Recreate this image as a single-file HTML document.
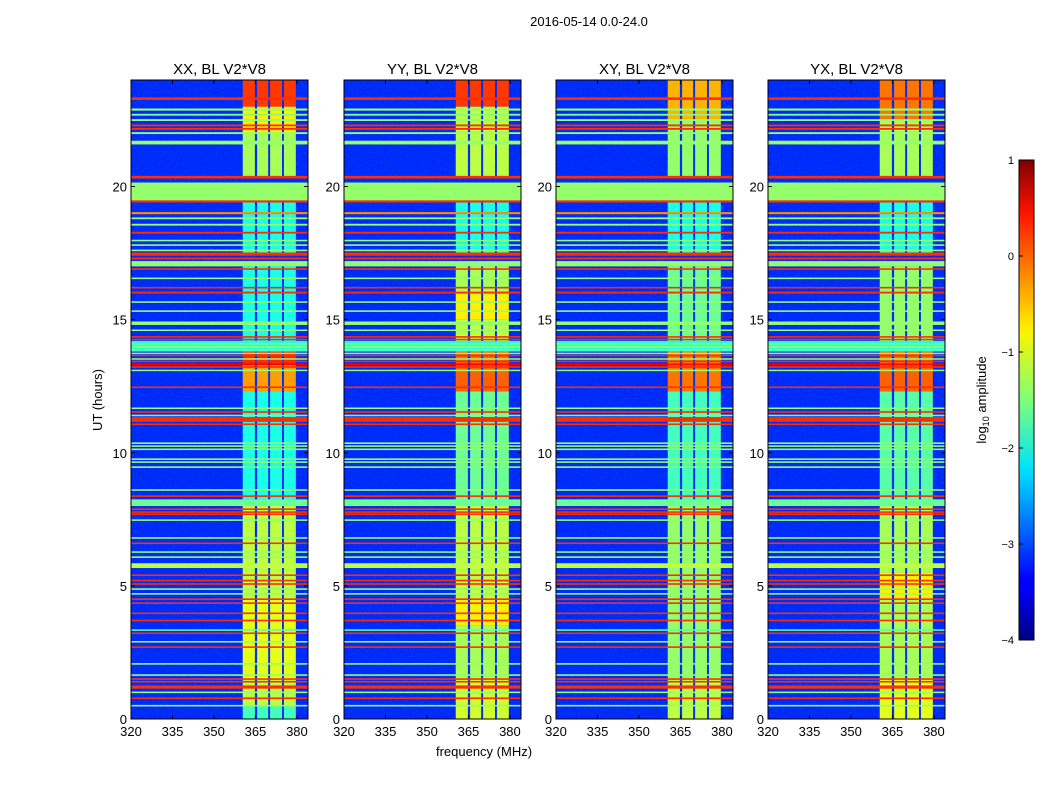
<!DOCTYPE html>
<html><head><meta charset="utf-8">
<style>
body{margin:0;background:#fff;}
svg text{font-family:"Liberation Sans",sans-serif;fill:#000;}
</style></head>
<body>
<svg id="chart" width="1050" height="800" viewBox="0 0 1050 800">
<defs>
<linearGradient id="jet" x1="0" y1="1" x2="0" y2="0">
<stop offset="0" stop-color="#00007f"/>
<stop offset="0.11" stop-color="#0000ff"/>
<stop offset="0.125" stop-color="#0000ff"/>
<stop offset="0.34" stop-color="#00d4ff"/>
<stop offset="0.36" stop-color="#00e4f8"/>
<stop offset="0.5" stop-color="#7dff7a"/>
<stop offset="0.64" stop-color="#f8f500"/>
<stop offset="0.66" stop-color="#ffe600"/>
<stop offset="0.89" stop-color="#ff1300"/>
<stop offset="1" stop-color="#7f0000"/>
</linearGradient>
<filter id="noise" x="0" y="0" width="100%" height="100%">
<feTurbulence type="fractalNoise" baseFrequency="0.9 0.5" numOctaves="2" seed="3"/>
<feColorMatrix type="matrix" values="0 0 0 0 0  0 0.6 0 0 0  0 0 0 0 0.5  0 0 0 1.3 -0.55"/>
</filter>
</defs>
<text x="589" y="26" font-size="13" text-anchor="middle">2016-05-14 0.0-24.0</text>
<text x="484" y="756" font-size="13" text-anchor="middle">frequency (MHz)</text>
<text transform="translate(102,400) rotate(-90)" font-size="13" text-anchor="middle">UT (hours)</text>
<g id="panels"></g>
<g>
<rect x="1019" y="160" width="15" height="480" fill="url(#jet)" stroke="#000" stroke-width="1"/>
<g id="cbticks"></g>
<text transform="translate(986,400) rotate(-90)" font-size="13" text-anchor="middle">log<tspan font-size="9" dy="3">10</tspan><tspan dy="-3"> amplitude</tspan></text>
</g>
</svg>
<script>
// ---- data ----
const panelTitles = ["XX, BL V2*V8","YY, BL V2*V8","XY, BL V2*V8","YX, BL V2*V8"];
const xTicks = [320,335,350,365,380];
const yTicks = [0,5,10,15,20];
const cbTicks = [1,0,-1,-2,-3,-4];
const bgLevel = -3.2;
// band columns [startMHz, endMHz]
const bandCols = [[360.4,364.8],[365.6,369.6],[370.3,374.6],[375.3,379.6]];
// horizontal RFI lines: [hourStart, hourEnd, log10 amplitude]
const hLines = [
[23.25,23.35,0.15],[22.85,22.93,-1.4],[22.66,22.73,-1.5],[22.46,22.53,-1.4],[22.26,22.33,0.15],[22.13,22.2,0.15],[21.97,22.04,-1.4],[21.58,21.72,-1.4],
[20.3,20.4,0.15],[19.47,20.15,-1.4],[19.4,19.48,0.15],[18.96,19.04,-0.3],[18.77,18.84,-1.4],[18.53,18.6,-1.4],[18.23,18.3,0.15],[17.94,18.0,-1.4],[17.77,17.83,-1.4],[17.57,17.63,-1.4],
[17.4,17.52,0.15],[17.26,17.33,0.15],[17.0,17.2,-1.4],[16.87,16.93,0.15],[16.52,16.58,-1.4],[16.17,16.23,0.15],[15.98,16.05,0.15],
[15.63,15.69,-1.4],[15.29,15.35,-1.4],[14.8,14.93,-1.4],[14.57,14.63,-1.4],[14.32,14.38,0.15],[14.23,14.28,0.15],[13.8,14.2,-2.0],[14.07,14.12,-1.4],[13.95,14.0,-1.4],[13.85,13.9,-1.4],
[13.71,13.76,-1.4],[13.63,13.68,0.15],[13.5,13.55,-1.4],[13.4,13.46,0.15],[13.29,13.35,0.4],[13.19,13.25,0.15],[13.07,13.12,-1.4],[12.43,12.49,0.15],
[11.64,11.7,-1.4],[11.5,11.56,0.15],[11.37,11.43,-1.4],[11.16,11.34,0.15],[11.04,11.1,0.15],[10.33,10.39,-1.4],[10.22,10.28,-1.4],[10.1,10.16,-1.4],[9.73,9.79,-1.4],[9.62,9.68,-1.4],[9.43,9.49,-1.4],
[8.57,8.63,-1.4],[8.34,8.4,0.15],[8.0,8.25,-1.6],[7.85,7.91,0.15],[7.74,7.8,0.15],[7.67,7.72,0.15],[7.44,7.5,-1.4],[6.77,6.83,-1.4],[6.57,6.63,0.15],[6.24,6.3,-1.4],[6.05,6.11,-1.4],
[5.67,5.85,-1.2],[5.37,5.43,0.15],[5.17,5.23,0.15],[5.04,5.1,0.15],[4.85,4.91,-1.4],[4.67,4.73,-1.4],[4.47,4.53,0.15],[4.32,4.38,0.15],[3.94,4.0,0.15],[3.67,3.73,0.15],[3.31,3.37,-1.7],[3.19,3.25,0.15],
[2.87,2.93,-1.4],[2.67,2.73,0.15],[2.04,2.1,-1.4],[1.62,1.68,-1.4],[1.47,1.53,0.15],[1.37,1.43,0.15],[1.14,1.26,0.15],[0.97,1.03,-1.4],[0.75,0.81,0.15],[0.47,0.53,-1.4]
];
// band intensity segments per panel: [hourStart, hourEnd, log10 amplitude]
const bandXX = [[0,0.5,-1.8],[0.5,1.5,-1.2],[1.5,4.5,-1.0],[4.5,8,-1.2],[8,12.3,-2.0],[12.3,13.3,-0.4],[13.3,13.8,0.2],[13.8,17,-2.0],[17.5,19.4,-2.0],[20.3,22,-1.3],[22,23,-0.8],[23,24,0.1]];
const bandYY = [[0,1.5,-1.1],[1.5,3.5,-1.3],[3.5,4.5,-0.8],[4.5,8,-1.2],[8,12.3,-1.6],[12.3,13.8,-0.1],[13.8,15,-1.2],[15,16,-0.8],[16,17,-1.3],[17.5,19.4,-2.0],[20.3,23,-1.2],[23,24,0.1]];
const bandXY = [[0,1.5,-1.2],[1.5,4.5,-1.4],[4.5,8,-1.4],[8,12.3,-1.8],[12.3,13.8,-0.2],[13.8,17,-1.6],[17.5,19.4,-2.0],[20.3,22.5,-1.4],[22.5,24,-0.5]];
const bandYX = [[0,1.5,-1.0],[1.5,4.5,-1.3],[4.5,5.5,-0.8],[5.5,8,-1.3],[8,12.3,-1.7],[12.3,13.8,-0.1],[13.8,17,-1.4],[17.5,19.4,-2.0],[20.3,22.5,-1.3],[22.5,24,-0.2]];
const bandSegs = [bandXX,bandYY,bandXY,bandYX];

// ---- helpers ----
const panelX = [131,344,556,768];
const PW = 177, TOP = 80, BOT = 719;
const fMin = 320, fMax = 384, hMin = 0, hMax = 24;
const NS = "http://www.w3.org/2000/svg";
function xs(i,f){return panelX[i] + (f-fMin)/(fMax-fMin)*PW;}
function ys(h){return BOT - (h-hMin)/(hMax-hMin)*(BOT-TOP);}
function jet(v){
  let t=(v+4)/5; t=Math.max(0,Math.min(1,t));
  const c=x=>Math.round(255*Math.max(0,Math.min(1,1.5-Math.abs(4*t-x))));
  return `rgb(${c(3)},${c(2)},${c(1)})`;
}
function el(tag,attrs,parent){const e=document.createElementNS(NS,tag);for(const k in attrs)e.setAttribute(k,attrs[k]);parent.appendChild(e);return e;}
const root=document.getElementById('panels');
for(let i=0;i<4;i++){
  const g=el('g',{},root);
  
  
  const bg=el('rect',{x:panelX[i],y:TOP,width:PW,height:BOT-TOP,fill:jet(bgLevel)},g);
  
  
  const nz=el('rect',{x:panelX[i],y:TOP,width:PW,height:BOT-TOP,filter:'url(#noise)',opacity:0.6},g);
  
  
  for(const s of bandSegs[i]){
    for(const c of bandCols){
      const r=el('rect',{x:xs(i,c[0]),y:ys(s[1]),width:xs(i,c[1])-xs(i,c[0]),height:ys(s[0])-ys(s[1]),fill:jet(s[2])},g);
      
      
    }
  }
  for(const l of hLines){
    const r=el('rect',{x:panelX[i],y:ys(l[1]),width:PW,height:Math.max(1.5,ys(l[0])-ys(l[1])),fill:jet(l[2])},g);
    
    
  }
  const fr=el('rect',{x:panelX[i],y:TOP,width:PW,height:BOT-TOP,fill:'none',stroke:'#000','stroke-width':1},g);
  
  
  const t=el('text',{x:panelX[i]+PW/2,y:74,'font-size':15,'text-anchor':'middle'},g);
  t.textContent=panelTitles[i];
  
  
  for(const f of xTicks){
    const x=xs(i,f);
    el('line',{x1:x,x2:x,y1:BOT,y2:BOT-4,stroke:'#000'},g);
    el('line',{x1:x,x2:x,y1:TOP,y2:TOP+4,stroke:'#000'},g);
    const tx=el('text',{x:x,y:BOT+17,'font-size':13,'text-anchor':'middle'},g);
    tx.textContent=f;
    
    
  }
  for(const h of yTicks){
    const y=ys(h);
    el('line',{x1:panelX[i],x2:panelX[i]+4,y1:y,y2:y,stroke:'#000'},g);
    el('line',{x1:panelX[i]+PW,x2:panelX[i]+PW-4,y1:y,y2:y,stroke:'#000'},g);
    const ty=el('text',{x:panelX[i]-4,y:y+5,'font-size':13,'text-anchor':'end'},g);
    ty.textContent=h;
    
    
  }
}
const cb=document.getElementById('cbticks');
for(const v of cbTicks){
  const y=640-(v+4)/5*480;
  el('line',{x1:1019,x2:1023,y1:y,y2:y,stroke:'#000'},cb);
  const t=el('text',{x:1014,y:y+4,'font-size':11,'text-anchor':'end'},cb);
  t.textContent=(v<0?'\u2212'+(-v):v);
  
  
}
</script>
</body></html>
